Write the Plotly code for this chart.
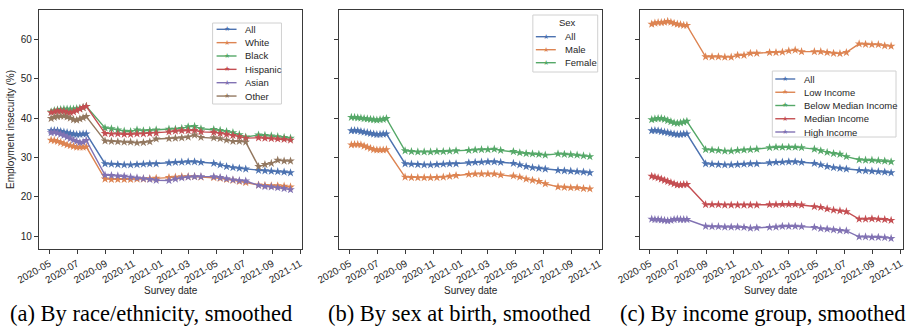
import plotly.graph_objects as go

# ---------------- data ----------------
dates = ["2020-05-05", "2020-05-12", "2020-05-19", "2020-05-26", "2020-06-02", "2020-06-09",
         "2020-06-16", "2020-06-23", "2020-06-30", "2020-07-07", "2020-07-14", "2020-07-21",
         "2020-08-31", "2020-09-14", "2020-09-28", "2020-10-12", "2020-10-26",
         "2020-11-09", "2020-11-23", "2020-12-07", "2020-12-21", "2021-01-18", "2021-02-01",
         "2021-02-15", "2021-03-01", "2021-03-15", "2021-03-29",
         "2021-04-26", "2021-05-10", "2021-05-24", "2021-06-07", "2021-06-21", "2021-07-05",
         "2021-08-02", "2021-08-16", "2021-08-30", "2021-09-13", "2021-09-27", "2021-10-11"]

all_people = [36.8, 36.85, 36.8, 36.6, 36.45, 36.3, 36.1, 35.95, 35.8, 35.85, 35.95, 36.0,
              28.4, 28.3, 28.2, 28.1, 28.1,
              28.2, 28.3, 28.4, 28.4, 28.65, 28.75, 28.8, 28.9, 28.9, 28.75,
              28.5, 28.1, 27.7, 27.4, 27.25, 27.05,
              26.7, 26.6, 26.5, 26.4, 26.3, 26.1]
white = [34.4, 34.3, 34.1, 33.8, 33.5, 33.2, 33.0, 32.8, 32.6, 32.6, 32.6, 32.7,
         24.5, 24.4, 24.4, 24.4, 24.4,
         24.5, 24.5, 24.6, 24.7, 24.9, 25.0, 25.1, 25.1, 25.1, 25.0,
         24.9, 24.7, 24.4, 24.2, 23.9, 23.6,
         23.0, 22.9, 22.8, 22.8, 22.7, 22.5]
black = [41.6, 41.9, 42.1, 42.2, 42.3, 42.3, 42.3, 42.3, 42.4, 42.5, 42.7, 43.0,
         37.5, 37.3, 37.0, 36.7, 36.6,
         37.0, 36.8, 36.9, 37.0, 37.2, 37.2, 37.4, 37.8, 37.9, 37.3,
         37.1, 36.9, 36.6, 36.3, 35.8, 35.2,
         35.7, 35.6, 35.5, 35.3, 35.1, 34.9]
hispanic = [41.4, 41.6, 41.8, 41.8, 41.7, 41.5, 41.4, 41.6, 41.9, 42.3, 42.7, 43.0,
            36.1, 36.0, 36.0, 35.9, 35.9,
            36.0, 36.0, 36.1, 36.2, 36.5, 36.7, 36.8, 36.8, 36.9, 36.5,
            36.4, 36.1, 35.9, 35.6, 35.3, 34.9,
            35.0, 34.9, 34.8, 34.7, 34.6, 34.4]
asian = [36.3, 36.4, 36.2, 35.9, 35.6, 35.2, 34.8, 34.4, 34.1, 33.8, 33.9, 34.3,
         25.5, 25.4, 25.3, 25.2, 25.0,
         24.8, 24.6, 24.4, 24.2, 24.1, 24.5, 24.8, 25.0, 25.1, 25.1,
         25.1, 24.9, 24.6, 24.3, 24.1, 24.0,
         22.9, 22.6, 22.5, 22.3, 22.1, 21.8]
other = [39.9, 40.2, 40.4, 40.5, 40.5, 40.3, 40.0, 39.6, 39.5, 39.8, 40.1, 40.4,
         34.2, 34.1, 34.0, 33.9, 33.9,
         33.7, 33.8, 34.0, 34.7, 34.8, 34.9, 35.0, 35.2, 35.7, 35.1,
         35.0, 34.8, 34.4, 34.1, 34.1, 33.9,
         27.7, 28.2, 28.5, 29.3, 29.1, 29.1]

male = [33.2, 33.3, 33.3, 33.2, 32.9, 32.6, 32.3, 32.0, 31.9, 31.9, 31.9, 32.0,
        25.0, 24.9, 24.85, 24.85, 24.85,
        24.9, 25.0, 25.2, 25.4, 25.7, 25.8, 25.8, 25.8, 25.8, 25.55,
        25.3, 25.0, 24.5, 24.2, 23.9, 23.3,
        22.5, 22.4, 22.3, 22.3, 22.1, 22.0]
female = [40.2, 40.2, 40.1, 40.0, 39.9, 39.8, 39.7, 39.6, 39.5, 39.6, 39.7, 39.9,
          31.7, 31.5, 31.4, 31.4, 31.4,
          31.5, 31.5, 31.6, 31.7, 31.8, 31.9, 32.0, 32.0, 32.1, 31.8,
          31.5, 31.2, 31.0, 30.9, 30.8, 30.6,
          30.9, 30.8, 30.7, 30.6, 30.4, 30.2]

low_income = [63.9, 64.2, 64.3, 64.3, 64.4, 64.6, 64.4, 64.1, 63.9, 63.8, 63.6, 63.6,
              55.6, 55.6, 55.6, 55.5, 55.5,
              56.0, 56.0, 56.5, 56.5, 56.7, 56.7, 56.8, 57.1, 57.3, 56.9,
              56.9, 56.9, 56.7, 56.5, 56.4, 56.7,
              58.9, 58.8, 58.7, 58.7, 58.4, 58.3]
below_median = [39.6, 39.8, 39.9, 39.9, 39.7, 39.4, 39.1, 38.8, 38.7, 38.8, 39.0, 39.2,
                32.0, 31.9, 31.8, 31.6, 31.6,
                31.8, 31.9, 32.0, 32.1, 32.5, 32.6, 32.6, 32.6, 32.6, 32.5,
                32.1, 31.7, 31.3, 31.0, 30.8, 30.2,
                29.4, 29.3, 29.3, 29.2, 29.1, 28.9]
median_income = [25.2, 25.0, 24.8, 24.5, 24.2, 23.9, 23.6, 23.3, 23.0, 23.0, 23.1, 23.1,
                 18.0, 18.0, 18.0, 17.9, 17.9,
                 17.9, 17.9, 17.9, 17.9, 18.0, 18.0, 18.05, 18.05, 18.05, 17.9,
                 17.5, 17.3, 16.9, 16.6, 16.4, 16.2,
                 14.3, 14.3, 14.4, 14.3, 14.2, 14.0]
high_income = [14.3, 14.2, 14.2, 14.1, 14.0, 13.9, 14.0, 14.2, 14.3, 14.2, 14.2, 14.2,
               12.5, 12.4, 12.4, 12.3, 12.3,
               12.3, 12.2, 12.0, 12.1, 12.2, 12.3, 12.5, 12.5, 12.5, 12.4,
               12.2, 11.9, 11.8, 11.6, 11.4, 11.3,
               9.8, 9.8, 9.7, 9.7, 9.6, 9.4]

race_labels = ["All", "White", "Black", "Hispanic", "Asian", "Other"]
sex_labels = ["All", "Male", "Female"]
income_labels = ["All", "Low Income", "Below Median Income", "Median Income", "High Income"]
tick_dates = ["2020-05-01", "2020-07-01", "2020-09-01", "2020-11-01", "2021-01-01", "2021-03-01",
              "2021-05-01", "2021-07-01", "2021-09-01", "2021-11-01"]
tick_labels = ["2020-05", "2020-07", "2020-09", "2020-11", "2021-01", "2021-03",
               "2021-05", "2021-07", "2021-09", "2021-11"]
y_ticks = [10, 20, 30, 40, 50, 60]
captions = ["(a) By race/ethnicity, smoothed", "(b) By sex at birth, smoothed",
            "(c) By income group, smoothed"]

# ---------------- style ----------------
palette = ["#4C72B0", "#DD8452", "#55A868", "#C44E52", "#8172B3", "#937860"]
W, H = 906, 327
ML, MR, MT, MB = 39, 1, 10, 78
PW, PH = W - ML - MR, H - MT - MB
TXT = "#262626"
SPINE = "#3a3a3a"
FONT = "Liberation Sans, Arial, sans-serif"


def fx(px):
    return (px - ML) / PW


def fy(py):
    return (MT + PH - py) / PH


panels = [(39, 303), (340, 603), (641, 905)]
domains = [[fx(a), fx(b)] for a, b in panels]

fig = go.Figure()

groups = [
    (race_labels, [all_people, white, black, hispanic, asian, other]),
    (sex_labels, [all_people, male, female]),
    (income_labels, [all_people, low_income, below_median, median_income, high_income]),
]

for pi, (labels, series) in enumerate(groups):
    xa = "x" if pi == 0 else f"x{pi + 1}"
    ya = "y" if pi == 0 else f"y{pi + 1}"
    for si, (lab, vals) in enumerate(zip(labels, series)):
        fig.add_trace(go.Scatter(
            x=dates, y=vals, name=lab, mode="lines+markers",
            xaxis=xa, yaxis=ya, showlegend=False,
            line=dict(color=palette[si], width=1.4),
            marker=dict(symbol="star", size=6.5, color=palette[si], line=dict(width=0)),
        ))

xrange_ = ["2020-04-08 12:00", "2021-11-06"]
axis_common = dict(showline=True, linecolor=SPINE, linewidth=1.2, mirror=True,
                   showgrid=False, zeroline=False, ticks="outside", ticklen=4,
                   tickwidth=1, tickcolor=SPINE,
                   tickfont=dict(family=FONT, size=10, color=TXT))

layout = dict(
    width=W, height=H,
    margin=dict(l=ML, r=MR, t=MT, b=MB),
    paper_bgcolor="white", plot_bgcolor="white",
    font=dict(family=FONT, color=TXT),
)
for pi in range(3):
    kx = "xaxis" if pi == 0 else f"xaxis{pi + 1}"
    ky = "yaxis" if pi == 0 else f"yaxis{pi + 1}"
    layout[kx] = dict(axis_common, domain=domains[pi], range=xrange_, type="date",
                      tickmode="array", tickvals=tick_dates, ticktext=tick_labels,
                      tickangle=-30, ticklabeloverflow="allow",
                      anchor="y" if pi == 0 else f"y{pi + 1}")
    layout[ky] = dict(axis_common, domain=[0, 1], range=[6.7, 67.5],
                      tickmode="array", tickvals=y_ticks,
                      showticklabels=(pi == 0),
                      anchor="x" if pi == 0 else f"x{pi + 1}")
layout["yaxis"]["title"] = dict(text="Employment insecurity (%)", standoff=4,
                                font=dict(family=FONT, size=10, color=TXT))
fig.update_layout(**layout)

annotations = []
shapes = []
for pi, (a, b) in enumerate(panels):
    cx = fx((a + b) / 2)
    annotations.append(dict(text="Survey date", x=cx, y=fy(290), xref="paper", yref="paper",
                            showarrow=False, xanchor="center", yanchor="middle",
                            font=dict(family=FONT, size=10, color=TXT)))
cap_centers = [151, 460, 765]
for c, t in zip(cap_centers, captions):
    annotations.append(dict(text=t, x=fx(c), y=fy(313), xref="paper", yref="paper",
                            showarrow=False, xanchor="center", yanchor="middle",
                            font=dict(family="Liberation Serif, Times New Roman, serif",
                                      size=22.5, color="black")))

# manual legends (pixel layout)
legends = [
    dict(box=(213, 23, 282, 104), line=(217, 237), text_x=243, rows=29.3, step=13.35,
         labels=race_labels, title=None),
    dict(box=(534, 15, 599, 72), line=(537, 557), text_x=564, rows=36.7, step=13.0,
         labels=sex_labels, title=("Sex", 569, 23)),
    dict(box=(774, 71, 898, 137), line=(777, 797), text_x=804, rows=79, step=13.25,
         labels=income_labels, title=None),
]
for lg in legends:
    x0, y0, x1, y1 = lg["box"]
    shapes.append(dict(type="rect", xref="paper", yref="paper",
                       x0=fx(x0), x1=fx(x1), y0=fy(y1), y1=fy(y0),
                       line=dict(color="#d0d0d0", width=1), fillcolor="rgba(255,255,255,0.85)",
                       layer="above"))
    if lg["title"]:
        t, tx, ty = lg["title"]
        annotations.append(dict(text=t, x=fx(tx), y=fy(ty), xref="paper", yref="paper",
                                showarrow=False, xanchor="center", yanchor="middle",
                                font=dict(family=FONT, size=9.5, color=TXT)))
    for i, lab in enumerate(lg["labels"]):
        ry = lg["rows"] + i * lg["step"]
        lx0, lx1 = lg["line"]
        shapes.append(dict(type="line", xref="paper", yref="paper",
                           x0=fx(lx0), x1=fx(lx1), y0=fy(ry), y1=fy(ry),
                           line=dict(color=palette[i], width=1.4), layer="above"))
        annotations.append(dict(text="★", x=fx((lx0 + lx1) / 2), y=fy(ry), xref="paper",
                                yref="paper", showarrow=False, xanchor="center",
                                yanchor="middle",
                                font=dict(family="DejaVu Sans", size=7, color=palette[i])))
        annotations.append(dict(text=lab, x=fx(lg["text_x"]), y=fy(ry), xref="paper",
                                yref="paper", showarrow=False, xanchor="left",
                                yanchor="middle",
                                font=dict(family=FONT, size=9.5, color=TXT)))

fig.update_layout(annotations=annotations, shapes=shapes)
fig.write_html("out.html")
